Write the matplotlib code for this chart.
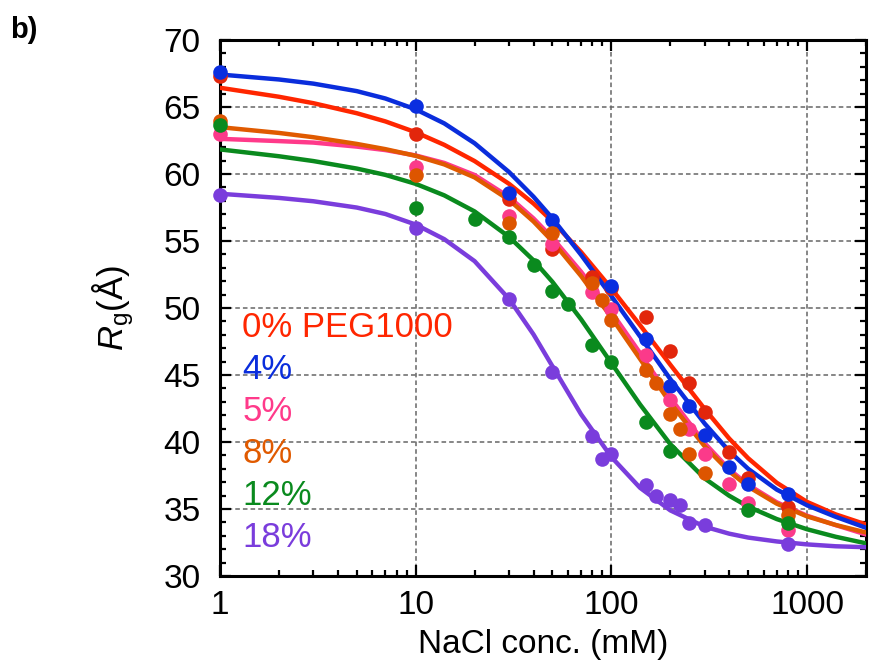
import matplotlib
matplotlib.use("Agg")
import matplotlib.pyplot as plt
from matplotlib.ticker import MultipleLocator, LogLocator, NullFormatter, FixedLocator

plt.rcParams['font.family'] = ['Liberation Sans', 'DejaVu Sans']
plt.rcParams['mathtext.fontset'] = 'custom'
plt.rcParams['mathtext.rm'] = 'Liberation Sans'
plt.rcParams['mathtext.it'] = 'Liberation Sans:italic'

# concentracion de NaCl para las curvas de ajuste (mM)
fit_x = [1, 2, 3, 5, 7, 10, 14, 20, 30, 40, 50, 70, 100, 140, 200, 300, 400, 500, 700, 1000, 1400, 2000]

# curvas de ajuste
fit_0 = [66.44, 65.77, 65.29, 64.54, 63.93, 63.12, 62.18, 60.97, 59.27, 57.80, 56.47, 54.18, 51.46, 48.73, 45.77, 42.46, 40.26, 38.79, 36.96, 35.53, 34.6, 33.85]
fit_4 = [67.43, 67.06, 66.75, 66.19, 65.64, 64.83, 63.78, 62.30, 60.15, 58.31, 56.69, 53.97, 50.89, 47.89, 44.70, 41.37, 39.32, 38.0, 36.45, 35.28, 34.42, 33.6]
fit_5 = [62.63, 62.46, 62.35, 62.05, 61.79, 61.39, 60.83, 59.93, 58.29, 56.69, 55.23, 52.71, 49.71, 46.65, 43.30, 39.91, 37.96, 36.81, 35.5, 34.5, 33.8, 33.1]
fit_8 = [63.5, 63.07, 62.75, 62.25, 61.86, 61.36, 60.72, 59.75, 58.07, 56.46, 54.98, 52.39, 49.30, 46.21, 42.92, 39.67, 37.81, 36.67, 35.4, 34.45, 33.81, 33.25]
fit_12 = [61.84, 61.33, 60.97, 60.41, 59.94, 59.27, 58.41, 57.21, 55.31, 53.56, 51.95, 49.16, 45.89, 42.81, 39.84, 37.28, 35.99, 35.18, 34.25, 33.49, 32.93, 32.44]
fit_18 = [58.53, 58.22, 57.97, 57.50, 57.02, 56.23, 55.14, 53.50, 50.68, 48.03, 45.65, 42.07, 38.88, 36.59, 34.90, 33.68, 33.16, 32.87, 32.58, 32.36, 32.22, 32.15]

# puntos experimentales
x_0 = [1, 10, 30, 50, 80, 100, 150, 200, 250, 300, 400, 500, 800]
y_0 = [67.31, 63.0, 58.12, 54.43, 52.28, 51.5, 49.35, 46.76, 44.42, 42.25, 39.22, 37.3, 35.18]
x_4 = [1, 10, 30, 50, 100, 150, 200, 250, 300, 400, 500, 800]
y_4 = [67.63, 65.08, 58.56, 56.54, 51.68, 47.66, 44.17, 42.68, 40.52, 38.12, 36.84, 36.09]
x_5 = [1, 10, 30, 50, 80, 100, 150, 200, 250, 300, 400, 500, 800]
y_5 = [63.0, 60.54, 56.9, 54.8, 51.22, 49.96, 46.46, 43.13, 40.99, 39.1, 36.86, 35.45, 33.42]
x_8 = [1, 10, 30, 50, 80, 90, 100, 150, 170, 200, 225, 250, 300, 800]
y_8 = [63.99, 59.92, 56.38, 55.62, 51.88, 50.59, 49.09, 45.37, 44.42, 42.06, 40.94, 39.12, 37.71, 34.52]
x_12 = [1, 10, 20, 30, 40, 50, 60, 80, 100, 150, 200, 500, 800]
y_12 = [63.69, 57.48, 56.61, 55.32, 53.18, 51.28, 50.3, 47.25, 45.95, 41.46, 39.32, 34.95, 33.98]
x_18 = [1, 10, 30, 50, 80, 90, 100, 150, 170, 200, 225, 250, 300, 800]
y_18 = [58.43, 55.95, 50.69, 45.23, 40.44, 38.72, 39.1, 36.82, 35.94, 35.65, 35.32, 33.98, 33.78, 32.36]

labels = ['0% PEG1000', '4%', '5%', '8%', '12%', '18%']
line_colors = ['#ff2600', '#0a2ddc', '#ff3a8a', '#e05a00', '#0a8a1e', '#7a3ddc']
dot_colors = ['#e2260c', '#0a2ee0', '#fb3a8a', '#dd5500', '#0a8a1e', '#7a3ddc']

fits = [fit_0, fit_4, fit_5, fit_8, fit_12, fit_18]
xs = [x_0, x_4, x_5, x_8, x_12, x_18]
ys = [y_0, y_4, y_5, y_8, y_12, y_18]

fig = plt.figure(figsize=(8.72, 6.68), dpi=100)
ax = fig.add_axes([0.2523, 0.1377, 0.7408, 0.8023])

for fy, c in zip(fits, line_colors):
    ax.plot(fit_x, fy, color=c, lw=3.2, zorder=3, solid_capstyle='round',
            solid_joinstyle='round')
for x, y, c in zip(xs, ys, dot_colors):
    ax.plot(x, y, 'o', color=c, ms=10.5, mec='none', zorder=4, clip_on=False)

ax.set_xscale('log')
ax.set_xlim(1, 2000)
ax.set_ylim(30, 70)

ax.yaxis.set_major_locator(MultipleLocator(5))
ax.yaxis.set_minor_locator(MultipleLocator(1))
ax.xaxis.set_major_locator(FixedLocator([1, 10, 100, 1000]))
ax.xaxis.set_minor_locator(LogLocator(base=10, subs=range(2, 10), numticks=20))
ax.xaxis.set_minor_formatter(NullFormatter())
ax.set_xticklabels(['1', '10', '100', '1000'])

ax.tick_params(which='both', direction='in', top=True, right=True, labelsize=24, width=1.6)
ax.tick_params(which='major', length=8, pad=10)
ax.tick_params(which='minor', length=4.5)
ax.tick_params(axis='y', which='major', pad=14)
for s in ax.spines.values():
    s.set_linewidth(2.2)

ax.grid(True, which='major', color='#666666', ls=(0, (3, 2)), lw=1.1, zorder=1)

ax.set_xlabel('NaCl conc. (mM)', fontsize=24, labelpad=6)
ax.set_ylabel(r'$R_{\mathrm{g}}$(Å)', fontsize=25, labelpad=20)

# etiquetas de cada serie
ty = 48.55
for lab, c in zip(labels, line_colors):
    ax.text(1.3, ty, lab, color=c, fontsize=25, va='center', ha='left', zorder=5)
    ty -= 3.13

fig.text(0.012, 0.955, 'b)', fontsize=21, fontweight='bold', va='center')

fig.savefig('out.png', dpi=100)
